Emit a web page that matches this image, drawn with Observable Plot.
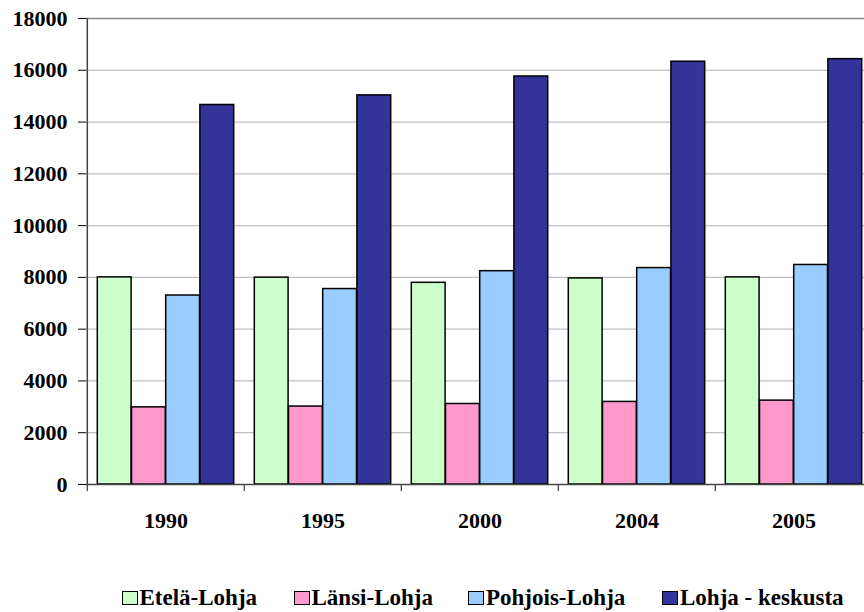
<!DOCTYPE html>
<html>
<head>
<meta charset="utf-8">
<script src="https://cdn.jsdelivr.net/npm/d3@7"></script>
<script src="https://cdn.jsdelivr.net/npm/@observablehq/plot@0.6"></script>
<style>
  html, body { margin: 0; padding: 0; background: white; overflow: hidden; }
  #wrap { position: relative; width: 864px; height: 612px; overflow: hidden; }
  .leg { position: absolute; top: 586px; height: 23px; font: bold 23px "Liberation Serif", "Times New Roman", serif; line-height: 23px; color: black; white-space: nowrap; }
  .sw { position: absolute; top: 5px; width: 16px; height: 14px; box-sizing: border-box; border: 1.5px solid black; }
  .lt { position: absolute; left: 18px; top: 0; }
</style>
</head>
<body>
<div id="wrap"></div>
<script>
const years = ["1990", "1995", "2000", "2004", "2005"];
const series = ["Etelä-Lohja", "Länsi-Lohja", "Pohjois-Lohja", "Lohja - keskusta"];
const eteläLohja = [8000, 7990, 7790, 7960, 8000];
const länsiLohja = [2980, 3010, 3110, 3190, 3240];
const pohjoisLohja = [7300, 7550, 8240, 8360, 8480];
const lohjaKeskusta = [14660, 15030, 15760, 16330, 16430];
const seriesValues = [eteläLohja, länsiLohja, pohjoisLohja, lohjaKeskusta];
const colors = ["#CCFFCC", "#FF99CC", "#99CCFF", "#333399"];
const yTicks = [0, 2000, 4000, 6000, 8000, 10000, 12000, 14000, 16000, 18000];

const W = 873, H = 560, ML = 86, MR = 0, MT = 18, MB = 76;
const bw = (W - ML - MR) / years.length;
const barW = 34.2;
const outer = (bw - barW * series.length) / 2;

const barMarks = series.map((s, i) => Plot.barY(
  years.map((y, j) => ({year: y, series: s, value: seriesValues[i][j]})),
  {
    x: "year", y: "value",
    fill: colors[i], stroke: "black", strokeWidth: 1.5,
    insetLeft: outer + i * barW,
    insetRight: bw - outer - (i + 1) * barW
  }
));

const chart = Plot.plot({
  width: W, height: H,
  marginLeft: ML, marginRight: MR, marginTop: MT, marginBottom: MB,
  style: {fontFamily: '"Liberation Serif", "Times New Roman", serif', fontSize: "22px", fontWeight: "bold", color: "black", background: "white", maxWidth: "none"},
  x: {type: "band", domain: years, padding: 0, axis: null},
  y: {domain: [0, 18000], axis: null},
  marks: [
    Plot.gridY(yTicks.filter(t => t > 0 && t < 18000), {stroke: "#c0c0c0", strokeOpacity: 1, strokeWidth: 1.3}),
    Plot.ruleY([18000], {stroke: "#888", strokeWidth: 1.5}),
    ...barMarks,
    Plot.ruleY([0], {stroke: "#444", strokeWidth: 1.5}),
    Plot.ruleX([years[0]], {dx: -bw / 2, y1: 0, y2: 18000, stroke: "#444", strokeWidth: 1.5}),
    Plot.axisX({tickSize: 7, text: null, label: null, dx: -bw / 2, stroke: "#444", strokeWidth: 1.3}),
    Plot.axisX({tickSize: 0, tickPadding: 28, fontSize: 22, label: null}),
    Plot.axisY({ticks: yTicks, tickSize: 8, tickPadding: 11, fontSize: 22, label: null, tickFormat: d => String(d)})
  ]
});
const wrap = document.getElementById("wrap");
wrap.appendChild(chart);

const legendLefts = [121.5, 293.5, 468, 662];
series.forEach((s, i) => {
  const item = document.createElement("div");
  item.className = "leg";
  item.style.left = legendLefts[i] + "px";
  const sw = document.createElement("span");
  sw.className = "sw";
  sw.style.background = colors[i];
  const t = document.createElement("span");
  t.className = "lt";
  t.textContent = s;
  item.appendChild(sw);
  item.appendChild(t);
  wrap.appendChild(item);
});
</script>
</body>
</html>
